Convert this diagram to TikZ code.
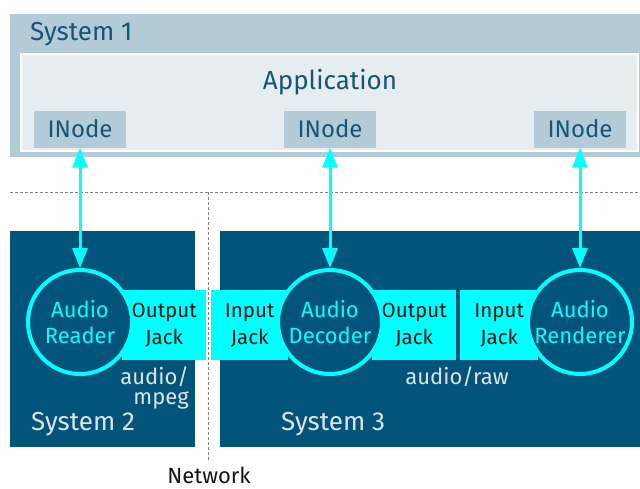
\documentclass[tikz,border=0pt]{standalone}
\usepackage{fontspec}
\setmainfont{Fira Sans}
\usetikzlibrary{positioning, arrows.meta}

\definecolor{sysone}{HTML}{B3CBD6}
\definecolor{appfill}{HTML}{E6EDF1}
\definecolor{sysdark}{HTML}{03547A}
\definecolor{jackcyan}{HTML}{00FFFF}
\definecolor{textblue}{HTML}{155675}
\definecolor{labelgray}{HTML}{DCE4E9}
\definecolor{jacktext}{HTML}{141414}

\begin{document}
\begin{tikzpicture}[x=1pt, y=-1pt,
        box/.style={rectangle, inner sep=0pt, anchor=north west},
        inode/.style={rectangle, fill=sysone, minimum width=92pt, minimum height=37pt, text=textblue, font=\fontsize{24}{26}\selectfont},
        jack/.style={box, fill=jackcyan, minimum height=70pt, align=center, text=jacktext, font=\fontsize{20.5}{27}\selectfont},
        filter/.style={circle, draw=jackcyan, line width=4pt, fill=sysdark, minimum size=104pt, inner sep=0pt, align=center, text=jackcyan, font=\fontsize{22}{26.5}\selectfont},
        link/.style={{Triangle[length=20pt, width=15pt]}-{Triangle[length=20pt, width=15pt]}, line width=3pt, draw=jackcyan},
        note/.style={text=labelgray, font=\fontsize{22}{20.5}\selectfont, inner sep=0pt},
        syslabel/.style={font=\fontsize{26}{28}\selectfont, anchor=west, inner sep=0pt},
        netline/.style={gray, dashed, dash pattern=on 3pt off 2pt, line width=0.8pt}
    ]
        \useasboundingbox (0,0) rectangle (640,488);

        % System 1 with the application
        \node[box, fill=sysone, minimum width=630pt, minimum height=143pt] (sys1) at (10,14) {};
        \node[box, fill=appfill, draw=white, line width=1.5pt, minimum width=617pt, minimum height=97pt] (app) at (20,53) {};
        \node[syslabel, text=textblue] (sys1label) at (30,34) {System 1};
        \node[text=textblue, font=\fontsize{26}{28}\selectfont] (applabel) at (330,82) {Application};
        \node[inode] (in1) at (80,129) {INode};
        \node[inode] (in2) at (330,129) {INode};
        \node[inode] (in3) at (580,129) {INode};

        % network borders
        \coordinate (netleft) at (10,192);
        \coordinate (netright) at (640,192);
        \coordinate (nettop) at (208,192);
        \coordinate (netbottom) at (208,462);
        \draw[netline] (netleft) -- (netright);
        \draw[netline] (nettop) -- (netbottom);
        \node[text=jacktext, font=\fontsize{22}{24}\selectfont] (network) at (209,475) {Network};

        % System 2 and System 3
        \node[box, fill=sysdark, minimum width=185pt, minimum height=216pt] (sys2) at (10,231) {};
        \node[box, fill=sysdark, minimum width=420pt, minimum height=216pt] (sys3) at (220,231) {};

        \node[jack, minimum width=84pt] (out2) at (122,290) {Output\\Jack};
        \node[jack, minimum width=77pt] (in2jack) at (211,290) {Input\\Jack};
        \node[jack, minimum width=84pt] (out3) at (372,290) {Output\\Jack};
        \node[jack, minimum width=78pt] (in3jack) at (460,290) {Input\\Jack};

        \node[filter] (reader) at (80,322) {Audio\\Reader};
        \node[filter] (decoder) at (330,322) {Audio\\Decoder};
        \node[filter] (renderer) at (580,322) {Audio\\Renderer};

        \node[note, align=right, anchor=east] (mpeg) at (189,388) {audio/\\mpeg};
        \node[note] (raw) at (457,377) {audio/raw};
        \node[syslabel, text=labelgray] (sys2label) at (31,424) {System 2};
        \node[syslabel, text=labelgray] (sys3label) at (281,424) {System 3};

        \draw[link] (in1) -- (reader);
        \draw[link] (in2) -- (decoder);
        \draw[link] (in3) -- (renderer);
    \end{tikzpicture}
\end{document}
